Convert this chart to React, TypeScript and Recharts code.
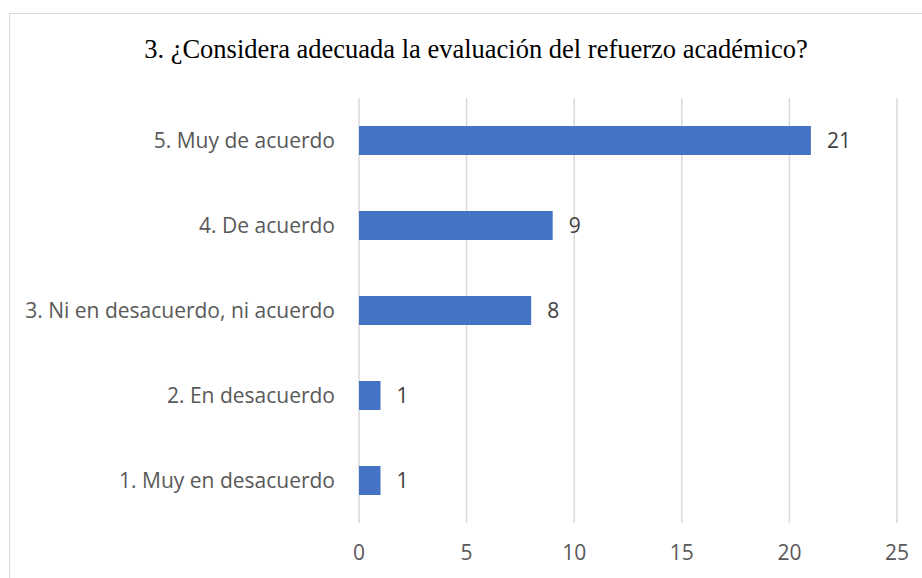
import { BarChart, Bar, XAxis, YAxis, CartesianGrid, LabelList } from 'recharts';

const categories = [
  '5. Muy de acuerdo',
  '4. De acuerdo',
  '3. Ni en desacuerdo, ni acuerdo',
  '2. En desacuerdo',
  '1. Muy en desacuerdo',
];
const counts = [21, 9, 8, 1, 1];
const xTicks = [0, 5, 10, 15, 20, 25];

const data = categories.map((name, i) => ({ name, value: counts[i] }));

const labelFont = { fontFamily: '"Open Sans", sans-serif', fontSize: 21, fill: '#595959' };

export default function App() {
  return (
    <div
      style={{
        position: 'absolute',
        left: 9,
        top: 13,
        width: 913,
        height: 565,
        overflow: 'hidden',
        background: '#fff',
        borderLeft: '1.5px solid #d9d9d9',
        borderTop: '1.5px solid #d9d9d9',
        boxSizing: 'border-box',
      }}
    >
      <div
        style={{
          position: 'absolute',
          left: 0,
          top: 20,
          width: 932,
          textAlign: 'center',
          fontFamily: '"Liberation Serif", "Times New Roman", serif',
          fontSize: 26.5,
          color: '#000',
          whiteSpace: 'nowrap',
        }}
      >
        3. ¿Considera adecuada la evaluación del refuerzo académico?
      </div>
      <BarChart
        width={913}
        height={565}
        data={data}
        layout="vertical"
        margin={{ top: 84, right: 26, bottom: 0, left: 0 }}
        barSize={29}
      >
        <CartesianGrid horizontal={false} stroke="#d9d9d9" strokeWidth={1.5} />
        <XAxis
          type="number"
          domain={[0, 25]}
          ticks={xTicks}
          axisLine={false}
          tickLine={false}
          tickSize={0}
          tickMargin={22}
          height={56}
          tick={labelFont}
          interval={0}
        />
        <YAxis
          type="category"
          dataKey="name"
          width={349}
          axisLine={false}
          tickLine={false}
          tickSize={0}
          tickMargin={24}
          tick={labelFont}
          interval={0}
        />
        <Bar dataKey="value" fill="#4472C4" isAnimationActive={false}>
          <LabelList
            dataKey="value"
            position="right"
            offset={16}
            style={{ fontFamily: '"Open Sans", sans-serif', fontSize: 21, fill: '#404040' }}
          />
        </Bar>
      </BarChart>
    </div>
  );
}
